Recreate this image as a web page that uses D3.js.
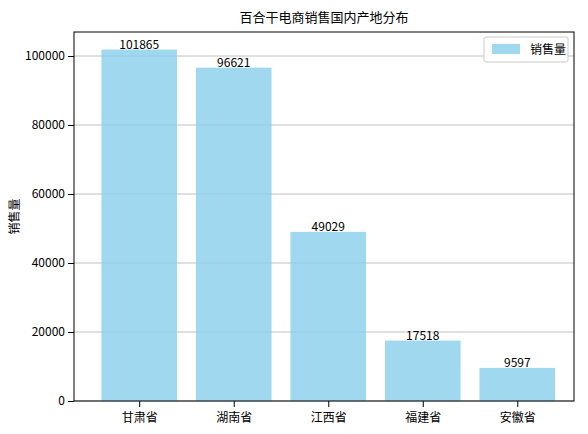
<!DOCTYPE html>
<html lang="zh-CN">
<head>
<meta charset="UTF-8">
<script src="https://d3js.org/d3.v7.min.js"></script>
<style>
  body { margin: 0; background: #fff; }
  text { font-family: "Noto Sans CJK SC", sans-serif; }
</style>
</head>
<body>
<svg width="588" height="434"></svg>
<script>
// 数据
const provinces = ["甘肃省", "湖南省", "江西省", "福建省", "安徽省"];
const sales = [101865, 96621, 49029, 17518, 9597];
const yTicks = [0, 20000, 40000, 60000, 80000, 100000];

const plotL = 74, plotR = 574, plotT = 32, plotB = 401;
const svg = d3.select("svg");

const x = d3.scaleLinear().domain([-0.69, 4.6]).range([plotL, plotR]);
const y = d3.scaleLinear().domain([0, 106958]).range([plotB, plotT]);
const barW = x(0.8) - x(0);

// 网格线
svg.append("g").selectAll("line").data(yTicks).enter().append("line")
  .attr("x1", plotL).attr("x2", plotR)
  .attr("y1", d => y(d)).attr("y2", d => y(d))
  .attr("stroke", "#b0b0b0").attr("stroke-width", 0.8);

// 柱子
svg.append("g").selectAll("rect").data(sales).enter().append("rect")
  .attr("x", (d, i) => x(i) - barW / 2)
  .attr("y", d => y(d))
  .attr("width", barW)
  .attr("height", d => plotB - y(d))
  .attr("fill", "#87ceeb").attr("fill-opacity", 0.8);

// 数值标签
svg.append("g").selectAll("text").data(sales).enter().append("text")
  .attr("x", (d, i) => x(i)).attr("y", d => y(d) - 1)
  .attr("text-anchor", "middle").attr("font-size", 12)
  .text(d => d);

// 坐标轴
svg.append("g").attr("transform", `translate(0,${plotB})`)
  .call(d3.axisBottom(x).tickValues(d3.range(provinces.length)).tickFormat(i => provinces[i]).tickSizeOuter(0))
  .call(g => g.select(".domain").remove())
  .selectAll("text").attr("font-size", 12).attr("dy", "1em").attr("fill", "#000");

svg.append("g").attr("transform", `translate(${plotL},0)`)
  .call(d3.axisLeft(y).tickValues(yTicks).tickFormat(d => d).tickSizeOuter(0))
  .call(g => g.select(".domain").remove())
  .selectAll("text").attr("font-size", 12).attr("fill", "#000");

svg.append("rect").attr("x", plotL).attr("y", plotT)
  .attr("width", plotR - plotL).attr("height", plotB - plotT)
  .attr("fill", "none").attr("stroke", "#000").attr("stroke-width", 1);

// 标题与轴标签
svg.append("text").attr("x", (plotL + plotR) / 2).attr("y", 22)
  .attr("text-anchor", "middle").attr("font-size", 13).text("百合干电商销售国内产地分布");
svg.append("text").attr("transform", `translate(19,${(plotT + plotB) / 2}) rotate(-90)`)
  .attr("text-anchor", "middle").attr("font-size", 12).text("销售量");

// 图例
const lg = svg.append("g");
lg.append("rect").attr("x", 484).attr("y", 37).attr("width", 84).attr("height", 25)
  .attr("fill", "#fff").attr("stroke", "#ccc").attr("rx", 2);
lg.append("rect").attr("x", 492).attr("y", 44).attr("width", 28).attr("height", 10)
  .attr("fill", "#87ceeb").attr("fill-opacity", 0.8);
lg.append("text").attr("x", 530).attr("y", 53.5).attr("font-size", 12).text("销售量");
</script>
</body>
</html>
